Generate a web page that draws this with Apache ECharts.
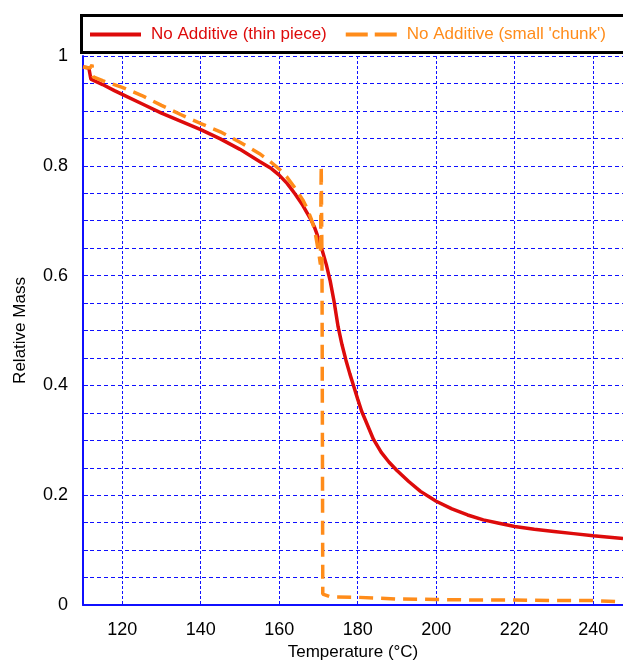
<!DOCTYPE html>
<html>
<head>
<meta charset="utf-8">
<script src="https://cdn.jsdelivr.net/npm/echarts@6/dist/echarts.min.js"></script>
<style>html,body{margin:0;padding:0;background:#fff;}#c{width:623px;height:662px;}</style>
</head>
<body>
<div id="c"></div>
<script>
const seriesNames = ["No Additive (thin piece)", "No Additive (small 'chunk')"];
const xTitle = "Temperature (°C)";
const yTitle = "Relative Mass";

const thinT = [110, 111.5, 112, 115, 118, 120, 125, 130, 135, 140, 145, 150, 155, 158, 160, 162, 164, 166, 168, 169, 170, 171, 172, 173, 174, 175, 176, 177, 178, 179, 180, 181, 182, 184, 186, 188, 190, 193, 196, 200, 204, 208, 212, 216, 220, 225, 230, 235, 240, 247.6];
const thinM = [0.980, 0.978, 0.958, 0.948, 0.937, 0.930, 0.913, 0.896, 0.881, 0.866, 0.849, 0.830, 0.808, 0.795, 0.783, 0.768, 0.749, 0.728, 0.703, 0.688, 0.668, 0.645, 0.620, 0.590, 0.552, 0.507, 0.474, 0.446, 0.421, 0.398, 0.375, 0.353, 0.336, 0.302, 0.278, 0.260, 0.245, 0.225, 0.207, 0.189, 0.175, 0.164, 0.155, 0.149, 0.143, 0.138, 0.134, 0.130, 0.126, 0.121];

const chunkT = [110, 111.8, 112.3, 112.6, 115, 120, 125, 130, 135, 140, 145, 150, 155, 158, 160, 162, 164, 166, 167, 168, 169, 169.6, 170.2, 170.5, 170.7, 170.9, 171.1, 173, 180, 190, 200, 210, 220, 230, 240, 247.6];
const chunkM = [0.980, 0.978, 0.984, 0.962, 0.955, 0.943, 0.928, 0.910, 0.893, 0.877, 0.862, 0.843, 0.822, 0.806, 0.794, 0.779, 0.760, 0.738, 0.724, 0.706, 0.685, 0.660, 0.635, 0.620, 0.800, 0.620, 0.020, 0.015, 0.014, 0.011, 0.010, 0.009, 0.009, 0.008, 0.008, 0.006];

const thinData = thinT.map((t, i) => [t, thinM[i]]);
const chunkData = chunkT.map((t, i) => [t, chunkM[i]]);

const FONT = "Liberation Sans, Arial, sans-serif";
const BLUE = "#1010ff";
const RED = "#dd0b0b";
const ORANGE = "#ff8c1a";

const chart = echarts.init(document.getElementById('c'), null, {renderer: 'canvas'});
chart.setOption({
  animation: false,
  backgroundColor: '#ffffff',
  graphic: [{
    type: 'rect', left: 79, top: 13, silent: true,
    shape: {x: 0, y: 0, width: 620, height: 37},
    style: {fill: 'none', stroke: '#000', lineWidth: 3}
  }],
  legend: {
    left: 79, top: 15, width: 570, orient: 'horizontal',
    padding: [11, 10, 10, 11],
    borderWidth: 0,
    itemWidth: 51, itemHeight: 4, itemGap: 19,
    textStyle: {fontFamily: FONT, fontSize: 17, padding: [0, 0, 0, 5]},
    data: [
      {name: seriesNames[0], icon: 'path://M0,0H51V4H0Z', textStyle: {color: RED}},
      {name: seriesNames[1], icon: 'path://M0,0H22V4H0Z M29,0H51V4H29Z', textStyle: {color: ORANGE}}
    ]
  },
  grid: {left: 83, right: 0, top: 56, bottom: 57, containLabel: false, outerBoundsMode: 'none'},
  xAxis: {
    type: 'value', min: 110, max: 247.6, splitNumber: 7,
    name: xTitle, nameLocation: 'middle', nameGap: 39,
    nameTextStyle: {fontFamily: FONT, fontSize: 17, color: '#000'},
    axisLine: {show: true, onZero: false, lineStyle: {color: BLUE, width: 2}},
    axisTick: {show: false},
    axisLabel: {fontFamily: FONT, fontSize: 18, color: '#000', margin: 16, showMinLabel: false, showMaxLabel: false},
    splitLine: {show: true, lineStyle: {color: BLUE, width: 1, type: [3, 2]}}
  },
  yAxis: {
    type: 'value', min: 0, max: 1, interval: 0.2,
    name: yTitle, nameLocation: 'middle', nameGap: 54,
    nameTextStyle: {fontFamily: FONT, fontSize: 17, color: '#000'},
    axisLine: {show: true, lineStyle: {color: BLUE, width: 2}},
    axisTick: {show: true, inside: true, length: 5, lineStyle: {color: BLUE}},
    minorTick: {show: true, splitNumber: 4, length: 5, lineStyle: {color: BLUE}},
    axisLabel: {fontFamily: FONT, fontSize: 18, color: '#000', margin: 15},
    splitLine: {show: true, lineStyle: {color: BLUE, width: 1, type: [4, 3]}},
    minorSplitLine: {show: true, lineStyle: {color: BLUE, width: 1, type: [4, 3]}}
  },
  series: [
    {
      name: seriesNames[0], type: 'line', data: thinData,
      symbol: 'none', showSymbol: false, smooth: false,
      lineStyle: {color: RED, width: 3.5}, itemStyle: {color: RED}
    },
    {
      name: seriesNames[1], type: 'line', data: chunkData,
      symbol: 'none', showSymbol: false, smooth: false,
      lineStyle: {color: ORANGE, width: 3.5, type: [14, 8]}, itemStyle: {color: ORANGE}
    }
  ]
});
</script>
</body>
</html>
